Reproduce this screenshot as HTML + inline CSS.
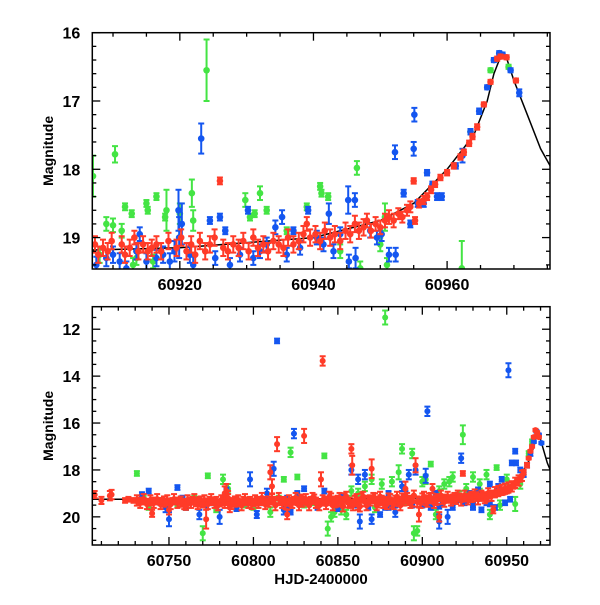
<!DOCTYPE html>
<html><head><meta charset="utf-8"><style>
body{margin:0;background:#fff}
svg text{font-family:"Liberation Sans",Arial,sans-serif;font-weight:bold;fill:#000}
</style></head><body>
<svg id="c" width="600" height="600" viewBox="0 0 600 600">
<defs>
<clipPath id="clipT"><rect x="92.3" y="32.7" width="457.7" height="236.3"/></clipPath>
<clipPath id="clipB"><rect x="92.3" y="306.7" width="457.7" height="238.3"/></clipPath>
</defs>
</svg>
<script>
// Model curve
const curveX=[60700,60800,60900,60920,60940,60950,60955,60960,60964,60966,60967,60968.2,60969,60970,60972,60974,60976];
const curveY=[19.25,19.25,19.2,19.15,19.0,18.75,18.5,18.0,17.5,17.0,16.6,16.3,16.4,16.7,17.2,17.7,18.05];

// Top panel series [x, mag, err]
const topRed=[60907.3,19.1,.12,60907.8,19.25,.12,60908.5,19.15,.12,60909.2,19.2,.12,60909.8,19.05,.12,60911.3,19.1,.12,60911.8,19.25,.12,60912.5,19.15,.12,60913.2,19.0,.1,60913.8,19.2,.12,60914.5,19.1,.12,60915.2,19.2,.12,60915.8,19.15,.12,60916.5,19.1,.12,60917.2,19.2,.12,60918.3,19.05,.12,60919.5,19.15,.12,60920.2,19.0,.12,60921,19.2,.12,60921.7,19.1,.12,60922.3,19.25,.12,60923,19.05,.12,60923.8,19.2,.12,60924.5,19.1,.12,60925.2,19.0,.12,60926,18.17,.05,60926.5,19.15,.12,60927.2,19.2,.12,60928,19.1,.12,60928.8,19.15,.12,60929.5,19.05,.12,60930.3,19.2,.12,60931,19.0,.12,60931.7,19.15,.12,60932.5,19.1,.12,60933.2,19.2,.12,60934,19.05,.12,60934.8,19.1,.12,60935.5,19.15,.12,60936.2,19.0,.12,60937,19.1,.12,60937.8,19.05,.12,60938.5,18.95,.12,60939,18.8,.1,60939.5,19.0,.12,60940.3,18.95,.12,60941,19.05,.12,60941.7,18.9,.12,60942.5,19.0,.12,60943.2,18.95,.12,60944,19.05,.12,60944.8,18.9,.12,60945.5,18.95,.12,60946.2,18.8,.12,60946.8,18.9,.12,60947.5,18.85,.12,60948,18.75,.1,60948.6,18.9,.1,60949.3,18.8,.1,60950,18.85,.1,60950.7,18.75,.1,60951.3,18.7,.1,60952,18.75,.1,60952.7,18.65,.08,60953.3,18.7,.08,60954,18.6,.08,60954.5,18.55,.08,60955,18.17,.04,60955.2,18.75,.05,60955.8,18.5,.06,60956.5,18.45,.06,60957,18.4,.05,60957.6,18.3,.05,60958.2,18.22,.04,60959,18.12,.04,60960,18.05,.04,60961,17.95,.04,60962,17.82,.04,60962.5,17.75,.04,60963.3,17.62,.04,60963.8,17.52,.04,60964.5,17.38,.04,60965.5,17.05,.03,60966.5,16.72,.03,60967.5,16.38,.03,60968,16.35,.03,60968.9,16.36,.03,60970.3,16.7,.03];
const topBlue=[60907.5,19.4,.12,60909,19.3,.12,60910,19.25,.12,60911,19.35,.12,60912,19.45,.1,60913.5,19.2,.12,60914,18.95,.1,60915,19.35,.12,60916.5,19.3,.12,60917.5,19.25,.12,60918.5,19.35,.12,60919.2,19.2,.15,60919.8,18.6,.3,60919.9,19.0,.3,60920.3,18.8,.3,60921.5,19.25,.12,60922,19.4,.12,60923.2,17.55,.22,60924.5,18.75,.05,60925.3,19.3,.1,60926,18.7,.05,60926.8,18.9,.05,60927.5,19.4,.1,60929,19.25,.1,60930.2,18.6,.05,60931,19.3,.1,60932,19.2,.1,60933,19.1,.1,60934.3,18.85,.1,60935.3,18.7,.1,60936,19.25,.1,60937,18.9,.05,60938,19.15,.1,60939.2,18.6,.05,60940.5,19.0,.1,60941.5,19.1,.1,60942.3,18.65,.15,60943,19.2,.1,60944,18.95,.1,60945.2,18.45,.2,60945.3,19.35,.1,60946.2,18.45,.1,60946.3,19.3,.15,60948.5,18.9,.1,60949.5,19.0,.1,60950.2,18.95,.1,60951.3,19.25,.1,60952.2,17.75,.1,60952.3,19.25,.1,60953.5,18.35,.05,60954.5,18.8,.05,60955,17.7,.1,60955.1,17.2,.1,60955.6,18.5,.05,60956.5,18.5,.05,60957,18.05,.04,60957.8,18.22,.04,60958.5,18.4,.05,60959.2,18.4,.05,60961.3,17.95,.04,60962.3,17.8,.1,60963.5,17.45,.04,60964.8,17.15,.04,60966,16.8,.03,60967,16.4,.03,60967.8,16.3,.03,60968.3,16.32,.03,60969.5,16.55,.03,60970.8,16.88,.05];
const topGreen=[60907,18.1,.3,60908,19.25,.12,60909,18.8,.1,60910,18.82,.1,60910.3,17.78,.12,60911.3,18.9,.1,60911.8,18.55,.05,60912.8,18.65,.05,60913,19.4,.1,60913.5,19.3,.1,60915,18.5,.05,60915.2,18.6,.05,60916,19.35,.1,60916.5,18.4,.05,60917.8,18.7,.05,60918,18.6,.3,60920,18.65,.15,60921.8,18.35,.2,60922,18.75,.15,60924,16.55,.45,60929.8,18.45,.1,60930.5,18.7,.05,60931.2,18.65,.05,60932,18.35,.1,60933,18.6,.05,60936,18.9,.05,60939,18.55,.05,60941,18.25,.05,60941.2,18.35,.05,60942.2,18.4,.05,60944,19.2,.1,60946.5,17.98,.1,60947,19.45,.1,60950,19.1,.1,60950.7,18.7,.2,60951,19.4,.1,60962.2,19.45,.4,60963.5,17.45,.04,60966.5,16.55,.03,60969.2,16.5,.03];

// Bottom panel series [x, mag, err]
const botRed=[60706,19.05,.15,60710,19.3,.15,60715,19.1,.2,60716,19.05,.2,60724,19.3,.1,60726,19.25,.1,60729,19.3,.1,60732,19.35,.1,60735,19.3,.1,60738,19.4,.1,60740,19.85,.15,60741,19.3,.1,60744,19.35,.1,60746,19.3,.1,60748,19.4,.1,60750,19.7,.2,60752,19.3,.1,60754,19.35,.1,60756,19.3,.1,60758,19.4,.1,60760,19.55,.15,60762,19.35,.15,60764,19.3,.15,60766,19.4,.15,60768,19.3,.15,60770,19.45,.15,60772,20.1,.4,60774,19.3,.15,60776,19.35,.15,60778,19.3,.15,60780,19.4,.15,60782,19.3,.15,60783,19.0,.3,60784,18.9,.3,60785,19.2,.3,60786,19.6,.2,60788,19.35,.15,60790,19.3,.15,60792,19.4,.15,60794,19.3,.15,60796,19.35,.15,60798,19.3,.15,60800,19.4,.15,60802,19.3,.15,60804,19.35,.15,60806,19.3,.15,60808,19.4,.15,60810,18.1,.3,60811,18.7,.3,60812,19.3,.15,60814,16.9,.3,60816,19.35,.15,60818,19.3,.15,60820,19.9,.2,60822,19.4,.15,60824,19.3,.15,60826,19.35,.15,60828,19.2,.15,60830,16.55,.3,60832,19.35,.15,60834,19.3,.15,60836,19.2,.15,60838,19.4,.15,60840,18.4,.3,60841,13.35,.2,60842,19.3,.15,60844,19.35,.15,60846,19.2,.2,60848,19.4,.2,60850,19.3,.2,60852,19.35,.2,60854,19.2,.2,60856,19.4,.2,60858,17.1,.2,60858.5,17.8,.4,60860,19.3,.2,60862,19.5,.2,60864,19.2,.2,60866,19.35,.2,60868,19.3,.2,60870,17.95,.4,60872,19.2,.2,60874,19.4,.2,60876,19.3,.2,60878,19.35,.2,60880,19.2,.2,60882,19.4,.2,60884,19.3,.2,60886,19.35,.2,60888,19.2,.2,60890,18.8,.3,60892,19.3,.2,60894,19.35,.2,60896,17.8,.3,60898,19.9,.3,60900,19.2,.2,60902,19.3,.2,60904,19.2,.2,60906,18.8,.2,60908,19.3,.2,60910,20.0,.2,60912,19.3,.15,60914,19.2,.15,60916,19.25,.15,60918,19.2,.15,60920,19.3,.15,60922,19.15,.15,60924,18.15,.1,60926,19.2,.15,60928,19.15,.15,60930,19.2,.15,60932,19.1,.15,60934,19.15,.15,60936,19.1,.15,60938,19.2,.15,60940,19.05,.15,60942,19.7,.15,60944,19.0,.1,60946,18.9,.1,60948,18.95,.1,60950,18.9,.1,60952,18.8,.1,60954,18.7,.1,60956,18.55,.1,60958,18.4,.1,60960,18.1,.1,60962,17.8,.1,60963,17.5,.05,60964,17.2,.05,60965,17.0,.05,60966,16.6,.05,60967,16.3,.05,60968,16.4,.05,60969,16.6,.05];
const botRedBand=[60731,19.3,60733,19.4,60735,19.25,60737,19.45,60739,19.3,60741,19.4,60743,19.25,60745,19.45,60747,19.35,60749,19.3,60751,19.45,60753,19.25,60755,19.4,60757,19.35,60759,19.45,60761,19.3,60763,19.4,60765,19.25,60767,19.45,60769,19.35,60771,19.3,60773,19.45,60775,19.25,60777,19.4,60779,19.5,60781,19.3,60783,19.4,60785,19.25,60787,19.45,60789,19.35,60791,19.3,60793,19.5,60795,19.25,60797,19.4,60799,19.45,60801,19.3,60803,19.4,60805,19.2,60807,19.45,60809,19.35,60811,19.25,60813,19.5,60815,19.2,60817,19.4,60819,19.45,60821,19.3,60823,19.4,60825,19.2,60827,19.5,60829,19.35,60831,19.25,60833,19.5,60835,19.2,60837,19.4,60839,19.5,60841,19.3,60843,19.45,60845,19.15,60847,19.5,60849,19.35,60851,19.2,60853,19.55,60855,19.15,60857,19.4,60859,19.5,60861,19.25,60863,19.55,60865,19.15,60867,19.5,60869,19.3,60871,19.2,60873,19.5,60875,19.15,60877,19.4,60879,19.45,60881,19.25,60883,19.45,60885,19.15,60887,19.5,60889,19.3,60891,19.2,60893,19.4,60895,19.1,60897,19.35,60899,19.4,60901,19.15,60903,19.35,60905,19.2,60907,19.4,60909,19.25,60911,19.1,60913,19.35,60915,19.15,60917,19.3,60919,19.2,60921,19.1,60923,19.3,60925,19.1,60927,19.25,60929,19.15,60931,19.05,60933,19.25,60935,19.1,60937,19.2,60939,19.0,60941,19.1,60943,18.95,60945,18.9,60947,18.85,60949,18.8,60951,18.75,60953,18.7,60955,18.55,60957,18.45,60959,18.25];
const botBlue=[60734,19.05,.1,60738,18.9,.1,60740,19.3,.1,60745,19.4,.1,60748,19.6,.2,60750,20.1,.3,60755,18.75,.1,60758,19.2,.1,60762,19.4,.1,60766,19.3,.1,60768,19.9,.2,60772,19.5,.1,60775,19.4,.1,60780,20.0,.3,60782,19.2,.1,60784,18.85,.1,60790,19.3,.1,60795,19.4,.1,60798,18.4,.3,60802,19.9,.15,60805,19.4,.1,60808,19.0,.2,60812,17.95,.3,60814,12.5,.1,60816,19.3,.1,60818,19.7,.2,60820,19.2,.1,60822,19.8,.1,60824,16.45,.2,60826,19.0,.1,60828,19.4,.1,60830,18.8,.1,60834,19.3,.1,60838,19.6,.1,60842,18.9,.1,60845,19.3,.1,60848,19.5,.1,60852,19.1,.1,60855,19.3,.1,60858,18.0,.2,60860,19.5,.1,60862,18.4,.2,60863,20.2,.3,60866,18.2,.2,60868,19.6,.1,60870,20.1,.2,60872,19.3,.1,60875,19.9,.1,60878,19.6,.1,60880,19.0,.1,60884,19.8,.2,60886,19.4,.1,60888,18.7,.2,60890,19.1,.2,60892,18.2,.2,60894,19.5,.1,60896,18.0,.2,60898,19.3,.1,60900,19.5,.1,60902,18.25,.3,60903,15.5,.2,60905,19.6,.1,60908,19.0,.1,60910,20.2,.3,60912,19.4,.1,60915,20.0,.3,60918,19.6,.1,60920,19.3,.1,60923,17.5,.2,60925,19.4,.1,60928,19.0,.1,60930,19.6,.1,60933,18.85,.1,60935,19.7,.1,60938,19.4,.1,60940,18.6,.1,60943,19.6,.1,60945,18.7,.1,60947,18.4,.1,60949,19.4,.1,60951,13.75,.3,60952,19.25,.1,60953,17.7,.1,60955,17.2,.1,60955.5,17.7,.1,60958,18.0,.1,60960,18.2,.1,60962,17.8,.1,60964,17.3,.1,60966,16.8,.05,60967.5,16.35,.05,60969,16.5,.05,60970.5,16.85,.05,60760,19.6,.1,60790,19.65,.1,60820,19.6,.1,60850,19.65,.1,60880,19.6,.1,60910,19.55,.1,60930,19.5,.1,60940,19.45,.1];
const botGreen=[60731,18.15,.1,60735,19.2,.1,60738,19.6,.1,60745,19.3,.1,60755,19.5,.1,60760,19.6,.1,60765,19.2,.1,60770,20.7,.3,60773,18.25,.1,60778,19.7,.1,60782,18.4,.2,60785,18.8,.2,60790,19.6,.1,60795,19.5,.1,60800,19.6,.1,60805,19.3,.1,60810,19.8,.2,60815,19.2,.1,60818,18.4,.1,60822,17.25,.2,60826,18.3,.1,60830,19.5,.1,60836,19.4,.1,60842,17.4,.1,60844,20.5,.3,60846,20.0,.2,60848,19.8,.2,60852,19.7,.2,60855,19.9,.2,60858,18.9,.2,60862,19.0,.2,60866,18.7,.2,60870,18.4,.2,60872,19.6,.2,60876,18.6,.2,60878,11.5,.3,60882,18.5,.2,60886,18.1,.3,60888,17.1,.2,60890,19.3,.2,60894,17.3,.2,60895,20.7,.3,60897,20.6,.2,60900,18.5,.2,60902,18.4,.2,60905,17.75,.1,60908,19.9,.2,60910,18.9,.2,60913,18.6,.2,60916,18.5,.2,60918,18.3,.2,60922,19.1,.2,60924,16.5,.4,60926,18.8,.2,60930,18.3,.2,60934,18.6,.2,60938,18.2,.2,60940,19.9,.2,60944,17.9,.1,60946,19.5,.2,60950,18.4,.2,60955,19.45,.3,60958,18.6,.2,60963,17.3,.1,60965,16.8,.1];

const topXTicks=[60920,60940,60960];
const topYTicks=[16,17,18,19];
const botXTicks=[60750,60800,60850,60900,60950];
const botYTicks=[12,14,16,18,20];

const NS="http://www.w3.org/2000/svg";
const svg=document.getElementById('c');
function mk(tag,attrs,parent){const e=document.createElementNS(NS,tag);for(const k in attrs)e.setAttribute(k,attrs[k]);(parent||svg).appendChild(e);return e;}
const COL={red:'#ff3b28',blue:'#1456f0',green:'#44e444'};

function panel(p){
  const L=92.3,R=550,T=p.top,B=p.bottom;
  const sx=v=>L+(v-p.x0)/(p.x1-p.x0)*(R-L);
  const sy=v=>T+(v-p.y0)/(p.y1-p.y0)*(B-T);
  const g=mk('g',{});
  
  
  const pg=mk('g',{'clip-path':'url(#'+p.clip+')'},g);
  function series(arr,col,name,r,stride){
    const sg=mk('g',{},pg);
    
    
    for(let i=0;i<arr.length;i+=stride){
      const x=sx(arr[i]),y=sy(arr[i+1]),e=stride===3?arr[i+2]:0.22;
      const y1=sy(arr[i+1]-e),y2=sy(arr[i+1]+e);
      mk('line',{x1:x,x2:x,y1:y1,y2:y2,stroke:col,'stroke-width':2},sg);
      mk('line',{x1:x-3,x2:x+3,y1:y1,y2:y1,stroke:col,'stroke-width':2},sg);
      mk('line',{x1:x-3,x2:x+3,y1:y2,y2:y2,stroke:col,'stroke-width':2},sg);
      const c=mk('circle',{cx:x,cy:y,r:r,fill:col},sg);
      
      
    }
  }
  let d='';
  curveX.forEach((v,i)=>{d+=(i?'L':'M')+sx(v).toFixed(1)+' '+sy(curveY[i]).toFixed(1);});
  const cv=mk('path',{d:d,fill:'none',stroke:'#000','stroke-width':1.5},pg);
  
  
  p.series.forEach(s=>series(s[0],s[1],s[2],s[3],s[4]));
  const fr=mk('rect',{x:L,y:T,width:R-L,height:B-T,fill:'none',stroke:'#000','stroke-width':1.5},g);
  
  
  const tg=mk('g',{stroke:'#000','stroke-width':1.3},g);
  for(let v=Math.ceil(p.x0/p.xmin)*p.xmin;v<=p.x1;v+=p.xmin){
    const maj=Math.abs(v/p.xmaj-Math.round(v/p.xmaj))<1e-6;const l=maj?8:4;const x=sx(v);
    mk('line',{x1:x,x2:x,y1:B,y2:B-l},tg);mk('line',{x1:x,x2:x,y1:T,y2:T+l},tg);
  }
  for(let k=Math.ceil(p.y0/p.ymin-1e-6);k*p.ymin<=p.y1+1e-6;k++){
    const v=k*p.ymin;const maj=Math.abs(v/p.ymaj-Math.round(v/p.ymaj))<1e-6;const l=maj?8:4;const y=sy(v);
    mk('line',{x1:L,x2:L+l,y1:y,y2:y},tg);mk('line',{x1:R,x2:R-l,y1:y,y2:y},tg);
  }
  p.xt.forEach(v=>{const t=mk('text',{x:sx(v),y:B+21,'text-anchor':'middle','font-size':16},g);t.textContent=v;
    });
  p.yt.forEach(v=>{const t=mk('text',{x:L-12,y:sy(v)+6,'text-anchor':'end','font-size':16},g);t.textContent=v;
    });
  const yl=mk('text',{x:0,y:0,'text-anchor':'middle','font-size':14,transform:'translate(53,'+((T+B)/2)+') rotate(-90)'},g);
  yl.textContent='Magnitude';
  
  
}

panel({name:'zoom-panel',top:32.7,bottom:269,x0:60906.9,x1:60975.4,y0:16,y1:19.46,clip:'clipT',
  xmaj:20,xmin:5,ymaj:1,ymin:0.2,xt:topXTicks,yt:topYTicks,
  series:[[topGreen,COL.green,'series-green',3.3,3],[topBlue,COL.blue,'series-blue',3.3,3],[topRed,COL.red,'series-red',3.3,3]]});
panel({name:'full-panel',top:306.7,bottom:545,x0:60704.6,x1:60975.6,y0:11.04,y1:21.2,clip:'clipB',
  xmaj:50,xmin:10,ymaj:2,ymin:0.5,xt:botXTicks,yt:botYTicks,
  series:[[botGreen,COL.green,'series-green',3,3],[botBlue,COL.blue,'series-blue',3,3],[botRedBand,COL.red,'series-red-band',3.2,2],[botRed,COL.red,'series-red',3,3]]});
const xl=mk('text',{x:321,y:584,'text-anchor':'middle','font-size':15});
xl.textContent='HJD-2400000';


</script>
</body></html>
